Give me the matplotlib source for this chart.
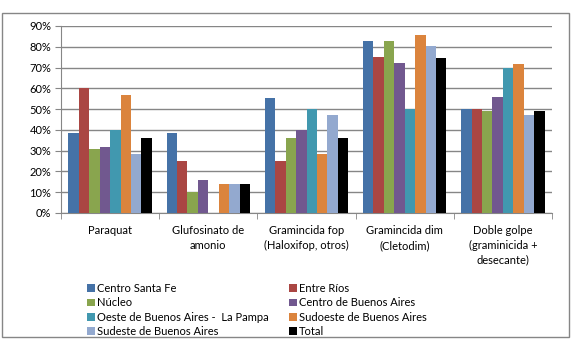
import numpy as np
import matplotlib
matplotlib.use("Agg")
import matplotlib.pyplot as plt
from matplotlib.patches import Rectangle, Patch
from matplotlib.ticker import PercentFormatter

plt.rcParams['font.family'] = ['Lato', 'DejaVu Sans']

categories = ["Paraquat", "Glufosinato de\namonio", "Gramincida fop\n(Haloxifop, otros)",
              "Gramincida dim\n(Cletodim)", "Doble golpe\n(graminicida +\ndesecante)"]
regions = ["Centro Santa Fe", "Entre Ríos", "Núcleo", "Centro de Buenos Aires",
           "Oeste de Buenos Aires -  La Pampa", "Sudoeste de Buenos Aires",
           "Sudeste de Buenos Aires", "Total"]
colors = ["#4572A7", "#AA4643", "#89A54E", "#71588F", "#4198AF", "#DB843D", "#93A9CF", "#000000"]

centro_santa_fe = [38.5, 38.5, 55.5, 83.0, 50.0]
entre_rios      = [60.0, 25.0, 25.0, 75.0, 50.0]
nucleo          = [31.0, 10.0, 36.0, 83.0, 49.0]
centro_ba       = [32.0, 16.0, 40.0, 72.0, 56.0]
oeste_ba        = [40.0, 0.0, 50.0, 50.0, 70.0]
sudoeste_ba     = [57.0, 14.0, 28.5, 85.5, 71.5]
sudeste_ba      = [28.5, 14.0, 47.0, 80.5, 47.0]
total           = [36.0, 14.0, 36.0, 74.5, 49.0]
series = [centro_santa_fe, entre_rios, nucleo, centro_ba, oeste_ba, sudoeste_ba, sudeste_ba, total]

fig = plt.figure(figsize=(5.71, 3.51), dpi=100)
ax = fig.add_axes([61 / 571, 1 - 213 / 351, (552 - 61) / 571, (213 - 26) / 351])

x = np.arange(len(categories))
w = 0.106
for i, (vals, c) in enumerate(zip(series, colors)):
    ax.bar(x + (i - 3.5) * w, np.array(vals) / 100, width=w, color=c, zorder=3)

ax.set_xlim(-0.5, len(categories) - 0.5)
ax.set_ylim(0, 0.9)
ax.set_yticks(np.arange(0, 0.91, 0.1))
ax.yaxis.set_major_formatter(PercentFormatter(1.0, decimals=0))
ax.grid(axis='y', color='#868686', linewidth=1, zorder=0)
for s in ['top', 'right']:
    ax.spines[s].set_visible(False)
for s in ['left', 'bottom']:
    ax.spines[s].set_color('#868686')
ax.tick_params(axis='y', length=4, color='#868686', labelsize=8, pad=3)
ax.set_xticks(x)
ax.set_xticklabels(categories, fontsize=8, linespacing=1.4)
ax.tick_params(axis='x', which='major', length=0, pad=9)
ax.set_xticks(np.arange(-0.5, len(categories)), minor=True)
ax.tick_params(axis='x', which='minor', length=4, color='#868686')

order = [0, 2, 4, 6, 1, 3, 5, 7]
handles = [Patch(facecolor=colors[k], label=regions[k]) for k in order]
fig.legend(handles=handles, ncol=2, loc='upper left', bbox_to_anchor=(87 / 571, 1 - 283 / 351),
           frameon=False, fontsize=8, handlelength=0.7, handleheight=0.7, handletextpad=0.2,
           columnspacing=1.8, labelspacing=0.3, borderaxespad=0, borderpad=0)

fig.patches.append(Rectangle((2 / 571, 1 - 337 / 351), 567 / 571, 324 / 351, transform=fig.transFigure,
                             fill=False, edgecolor='#868686', linewidth=1))

fig.savefig("out.png", dpi=100)
